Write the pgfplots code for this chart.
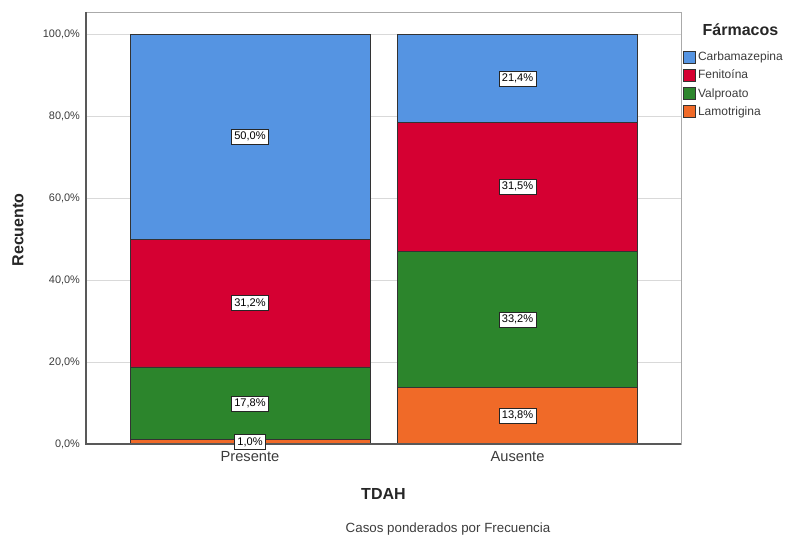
\documentclass[border=0pt]{standalone}
\usepackage{pgfplots}
\pgfplotsset{compat=1.18}
\usepackage{fontspec}
\setmainfont{Liberation Sans}
\definecolor{cblue}{RGB}{85,148,226}
\definecolor{cred}{RGB}{213,0,50}
\definecolor{cgreen}{RGB}{44,133,44}
\definecolor{corange}{RGB}{240,106,40}
\definecolor{frame}{RGB}{170,170,170}
\definecolor{txt}{RGB}{60,60,60}
\begin{document}
\begin{tikzpicture}
\useasboundingbox (-64.5pt,-70.5pt) rectangle (533.25pt,333pt);
\pgfplotsset{common/.style={width=446.25pt,height=324pt,scale only axis,at={(0,0)},anchor=south west,
  xmin=-0.613,xmax=1.611,ymin=0,ymax=105.4,/pgf/number format/assume math mode=true}}
\begin{axis}[common, ybar stacked, bar width=0.897,
  axis line style={draw=frame},
  ymajorgrids, grid style={draw=black!15, line width=0.6pt},
  ytick={0,20,40,60,80,100},
  yticklabels={{0,0\%},{20,0\%},{40,0\%},{60,0\%},{80,0\%},{100,0\%}},
  xtick={0,1}, xticklabels={Presente,Ausente},
  major tick length=0pt,
  yticklabel style={font=\fontsize{8.2}{9}\selectfont, text=txt, xshift=-1pt},
  xticklabel style={font=\fontsize{11}{12}\selectfont, text=txt, yshift=-2pt},
  reverse legend,
  legend cell align=left,
  legend style={at={(1.0,0.917)}, anchor=north west, draw=none, fill=none,
    font=\fontsize{9}{10}\selectfont, row sep=1.5pt, inner sep=1pt, text=txt},
  legend image code/.code={\draw[#1, line width=0.6pt, draw=black!80] (0pt,-4.5pt) rectangle (9pt,4.5pt);},
]
\addplot[fill=corange, draw=black!80, line width=0.6pt] coordinates {(0,1.0) (1,13.8)};
\addlegendentry{Lamotrigina}
\addplot[fill=cgreen, draw=black!80, line width=0.6pt] coordinates {(0,17.8) (1,33.2)};
\addlegendentry{Valproato}
\addplot[fill=cred, draw=black!80, line width=0.6pt] coordinates {(0,31.2) (1,31.5)};
\addlegendentry{Fenitoína}
\addplot[fill=cblue, draw=black!80, line width=0.6pt] coordinates {(0,50.0) (1,21.4)};
\addlegendentry{Carbamazepina}
\end{axis}
\begin{axis}[common, hide axis, clip=false,
  point meta=explicit,
  nodes near coords={\pgfmathprintnumber[fixed,fixed zerofill,precision=1,use comma]{\pgfplotspointmeta}\%},
  nodes near coords align={center},
  every node near coord/.append style={draw=black!85, fill=white, line width=0.55pt,
    inner xsep=2pt, inner ysep=2.2pt,
    font=\fontsize{8.3}{9}\selectfont, text=black},
]
\addplot[only marks, mark=none] coordinates {
 (0,0.5) [1.0] (0,9.9) [17.8] (0,34.4) [31.2] (0,75.0) [50.0]
 (1,6.9) [13.8] (1,30.4) [33.2] (1,62.75) [31.5] (1,89.2) [21.4]};
\draw[black!65, line width=0.8pt] (rel axis cs:0,1) -- (rel axis cs:0,0) -- (rel axis cs:1,0);
\end{axis}
\node[font=\bfseries\fontsize{12}{13}\selectfont, text=black!85, anchor=west] at (459pt,310.5pt) {Fármacos};
\node[font=\bfseries\fontsize{12}{13}\selectfont, rotate=90, text=black!85] at (-51pt,160.5pt) {Recuento};
\node[font=\bfseries\fontsize{12}{13}\selectfont, text=black!85] at (223.1pt,-37.5pt) {TDAH};
\node[font=\fontsize{10}{11}\selectfont, text=txt] at (271.5pt,-63.5pt) {Casos ponderados por Frecuencia};
\end{tikzpicture}
\end{document}
